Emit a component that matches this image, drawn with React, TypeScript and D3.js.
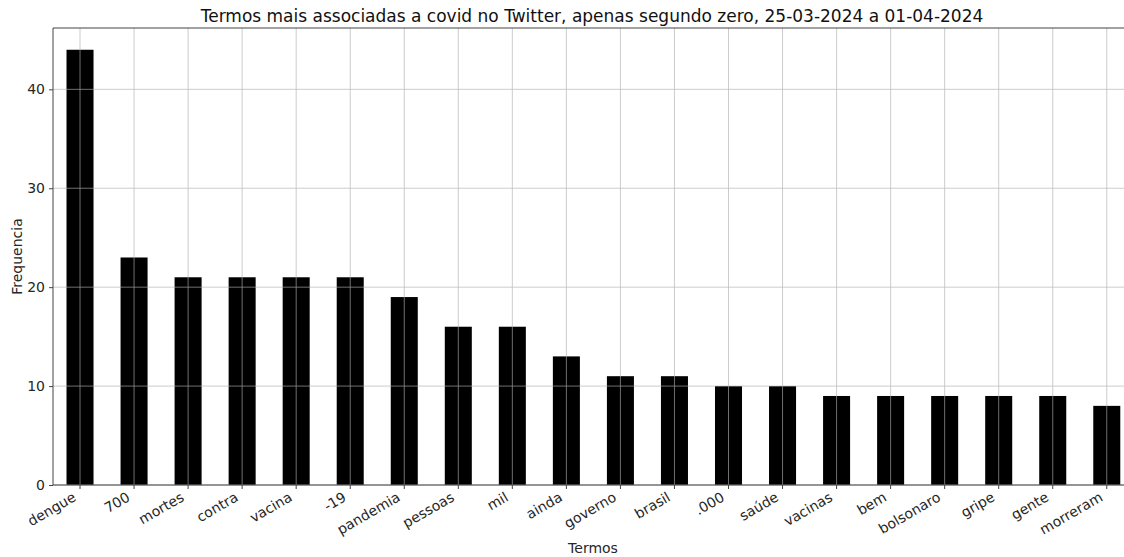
import * as d3 from "d3";
import { useEffect, useRef } from "react";

const termos = [
  "dengue", "700", "mortes", "contra", "vacina", "-19", "pandemia", "pessoas",
  "mil", "ainda", "governo", "brasil", ".000", "saúde", "vacinas", "bem",
  "bolsonaro", "gripe", "gente", "morreram",
];
const frequencias = [44, 23, 21, 21, 21, 21, 19, 16, 16, 13, 11, 11, 10, 10, 9, 9, 9, 9, 9, 8];
const yTicks = [0, 10, 20, 30, 40];

const width = 1124;
const height = 557;
const font = "DejaVu Sans, sans-serif";

export default function App() {
  const ref = useRef<SVGSVGElement | null>(null);

  useEffect(() => {
    const margin = { top: 28, left: 53, bottom: 72 };
    const plotBottom = height - margin.bottom;
    const step = 54.04;
    const svg = d3.select(ref.current);
    svg.selectAll("*").remove();

    const x = d3
      .scaleBand<string>()
      .domain(termos)
      .range([margin.left, margin.left + step * termos.length])
      .paddingInner(0.5)
      .paddingOuter(0.25);
    const yMax = d3.max(frequencias)! * 1.05;
    const y = d3.scaleLinear([0, yMax], [plotBottom, margin.top]);

    // barras
    svg.append("g")
      .selectAll("rect")
      .data(frequencias)
      .join("rect")
      .attr("x", (_, i) => x(termos[i])!)
      .attr("y", (d) => y(d))
      .attr("width", x.bandwidth())
      .attr("height", (d) => y(0) - y(d))
      .attr("fill", "#000");

    // grade por cima das barras
    const grid = svg.append("g").attr("stroke", "#b0b0b0").attr("stroke-width", 0.8).attr("opacity", 0.8);
    grid.selectAll(".gy")
      .data(yTicks)
      .join("line")
      .attr("x1", margin.left)
      .attr("x2", width)
      .attr("y1", (d) => y(d))
      .attr("y2", (d) => y(d));
    grid.selectAll(".gx")
      .data(termos)
      .join("line")
      .attr("x1", (d) => x(d)! + x.bandwidth() / 2)
      .attr("x2", (d) => x(d)! + x.bandwidth() / 2)
      .attr("y1", margin.top)
      .attr("y2", plotBottom);

    // eixos
    const yAxis = svg.append("g")
      .attr("transform", `translate(${margin.left},0)`)
      .call(d3.axisLeft(y).tickValues(yTicks).tickSize(4).tickPadding(4).tickSizeOuter(0));
    yAxis.select(".domain").remove();
    yAxis.selectAll("text").attr("font-size", 14).attr("font-family", font).attr("fill", "#262626");
    yAxis.selectAll("line").attr("stroke", "#444");

    const xAxis = svg.append("g")
      .attr("transform", `translate(0,${plotBottom})`)
      .call(d3.axisBottom(x).tickSize(4).tickSizeOuter(0));
    xAxis.select(".domain").remove();
    xAxis.selectAll("line").attr("stroke", "#444");
    xAxis.selectAll("text")
      .attr("font-size", 14)
      .attr("font-family", font)
      .attr("fill", "#262626")
      .attr("text-anchor", "end")
      .attr("x", 0)
      .attr("y", 0)
      .attr("dy", null)
      .attr("transform", "translate(-3,15) rotate(-30)");

    // bordas
    const spine = svg.append("g").attr("stroke", "#444").attr("stroke-width", 1);
    spine.append("line").attr("x1", margin.left).attr("x2", margin.left).attr("y1", margin.top).attr("y2", plotBottom);
    spine.append("line").attr("x1", margin.left).attr("x2", width).attr("y1", plotBottom).attr("y2", plotBottom);
    spine.append("line").attr("x1", margin.left).attr("x2", width).attr("y1", margin.top).attr("y2", margin.top);

    svg.append("text")
      .attr("x", 592)
      .attr("y", 22)
      .attr("text-anchor", "middle")
      .attr("font-size", 17)
      .attr("font-family", font)
      .attr("fill", "#111")
      .text("Termos mais associadas a covid no Twitter, apenas segundo zero, 25-03-2024 a 01-04-2024");

    svg.append("text")
      .attr("x", 593)
      .attr("y", 553)
      .attr("text-anchor", "middle")
      .attr("font-size", 14)
      .attr("font-family", font)
      .attr("fill", "#262626")
      .text("Termos");

    svg.append("text")
      .attr("transform", `translate(22,${(margin.top + plotBottom) / 2}) rotate(-90)`)
      .attr("text-anchor", "middle")
      .attr("font-size", 14)
      .attr("font-family", font)
      .attr("fill", "#262626")
      .text("Frequencia");
  }, []);

  return (
    <svg
      ref={ref}
      width={width}
      height={height}
      style={{ position: "absolute", left: 0, top: 0, background: "#fff" }}
    />
  );
}
